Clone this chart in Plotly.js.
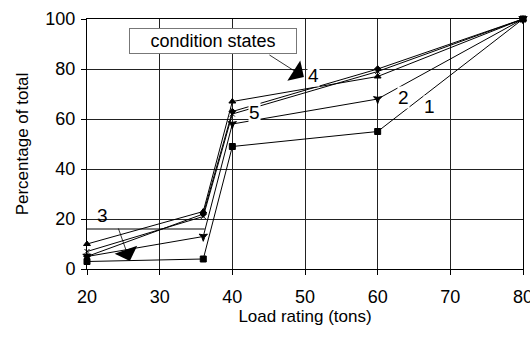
<!DOCTYPE html>
<html>
<head>
<meta charset="utf-8">
<script src="https://cdn.plot.ly/plotly-3.0.1.min.js"></script>
<style>html,body{margin:0;padding:0;background:#fff;}#chart{width:530px;height:360px;}</style>
</head>
<body>
<div id="chart"></div>
<script>
var loadRating = [20, 36, 40, 60, 80];
var state1 = [3, 4, 49, 55, 100];
var state2 = [5, 13, 58, 68, 100];
var state3 = [7, 21, 62, 79, 100];
var state4 = [10, 23, 67, 77, 100];
var state5 = [5, 22, 63, 80, 100];
var seriesNames = ['1', '2', '3', '4', '5'];
var xTicks = [20, 30, 40, 50, 60, 70, 80];
var yTicks = [0, 20, 40, 60, 80, 100];

var markerSyms = ['square', 'star-triangle-down', 'x-thin-open', 'triangle-up', 'diamond'];
var markerSizes = [6, 6, 5, 6, 5];
var allSeries = [state1, state2, state3, state4, state5];
var traces = allSeries.map(function (s, i) {
  return {
    x: loadRating, y: s, name: seriesNames[i], type: 'scatter', mode: 'lines+markers',
    line: {color: '#000', width: 1},
    marker: {symbol: markerSyms[i], size: markerSizes[i], color: '#000', line: {color: '#000', width: 1}},
    cliponaxis: false
  };
});

var fam = 'Liberation Sans, Arial, sans-serif';
var layout = {
  width: 530, height: 360,
  margin: {l: 87, r: 7, t: 19, b: 91},
  paper_bgcolor: '#fff', plot_bgcolor: '#fff',
  showlegend: false,
  font: {family: fam, size: 17, color: '#000'},
  xaxis: {
    range: [20, 80], tickvals: xTicks, ticktext: xTicks.map(String),
    showgrid: true, gridcolor: '#222', gridwidth: 1,
    showline: true, linecolor: '#000', linewidth: 1, mirror: true,
    ticks: 'outside', ticklen: 5, tickcolor: '#000',
    zeroline: false, ticklabeloverflow: 'allow', ticklabelstandoff: 6,
    tickfont: {family: fam, size: 18, color: '#000'},
    title: {text: 'Load rating (tons)', font: {family: fam, size: 17, color: '#000'}, standoff: 2}
  },
  yaxis: {
    range: [0, 100], tickvals: yTicks, ticktext: yTicks.map(String),
    showgrid: true, gridcolor: '#222', gridwidth: 1,
    showline: true, linecolor: '#000', linewidth: 1, mirror: true,
    ticks: 'outside', ticklen: 5, tickcolor: '#000',
    zeroline: false, ticklabelstandoff: 2,
    tickfont: {family: fam, size: 18, color: '#000'},
    title: {text: 'Percentage of total', font: {family: fam, size: 17, color: '#000'}, standoff: 12}
  },
  shapes: [
    {type: 'line', xref: 'x', yref: 'y', x0: 20, x1: 36.2, y0: 16, y1: 16, line: {color: '#000', width: 1}}
  ],
  annotations: [
    {x: 37.4, y: 91.4, xref: 'x', yref: 'y', text: 'condition states', showarrow: false,
     font: {family: fam, size: 18, color: '#000'}, bgcolor: '#fff', bordercolor: '#777', borderwidth: 1,
     borderpad: 1, width: 164, height: 22},
    {x: 49.85, y: 76.8, xref: 'x', yref: 'y', ax: -36, ay: -23, showarrow: true,
     arrowhead: 1, arrowsize: 5, arrowwidth: 0.8, arrowcolor: '#000', text: ''},
    {x: 25.9, y: 3.2, xref: 'x', yref: 'y', ax: -12, ay: -34, showarrow: true,
     arrowhead: 1, arrowsize: 5, arrowwidth: 0.8, arrowcolor: '#000', text: ''},
    {x: 67.2, y: 65.2, xref: 'x', yref: 'y', text: '1', showarrow: false, bgcolor: '#fff',
     font: {family: fam, size: 19, color: '#000'}, borderpad: 0},
    {x: 63.5, y: 68.8, xref: 'x', yref: 'y', text: '2', showarrow: false, bgcolor: '#fff',
     font: {family: fam, size: 19, color: '#000'}, borderpad: 0},
    {x: 22.1, y: 21.6, xref: 'x', yref: 'y', text: '3', showarrow: false,
     font: {family: fam, size: 19, color: '#000'}},
    {x: 51.2, y: 77.6, xref: 'x', yref: 'y', text: '4', showarrow: false, bgcolor: '#fff',
     font: {family: fam, size: 19, color: '#000'}, borderpad: 0},
    {x: 43.1, y: 62.8, xref: 'x', yref: 'y', text: '5', showarrow: false, bgcolor: '#fff',
     font: {family: fam, size: 19, color: '#000'}, borderpad: 0}
  ]
};

Plotly.newPlot('chart', traces, layout, {staticPlot: true, displayModeBar: false});
</script>
</body>
</html>
